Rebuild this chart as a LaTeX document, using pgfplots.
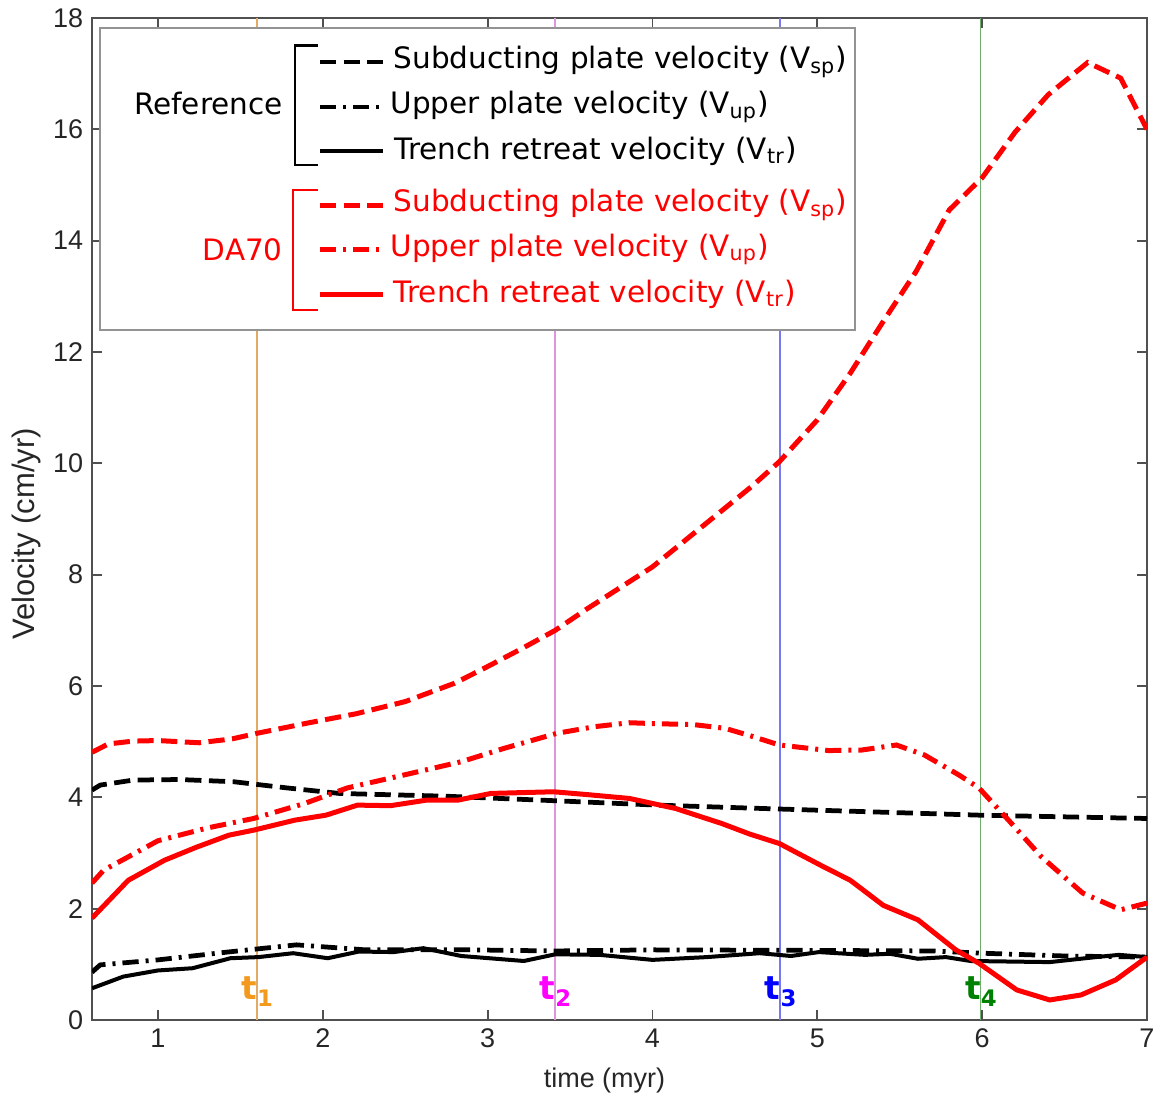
\documentclass[border=0pt]{standalone}
\usepackage{pgfplots}
\pgfplotsset{compat=1.18}
\usepackage{fontspec}
\setmainfont{Liberation Sans}
\newfontfamily\legfont{DejaVu Sans}
\usetikzlibrary{calc}

\definecolor{axgray}{RGB}{80,80,80}
\definecolor{txtgray}{RGB}{38,38,38}
\definecolor{tone}{RGB}{243,154,30}
\definecolor{tonel}{RGB}{226,170,100}
\definecolor{ttwo}{RGB}{255,0,255}
\definecolor{ttwol}{RGB}{220,150,220}
\definecolor{tthree}{RGB}{0,0,255}
\definecolor{tthreel}{RGB}{120,120,240}
\definecolor{tfour}{RGB}{0,128,0}
\definecolor{tfourl}{RGB}{110,175,110}

\tikzset{
  dsh/.style={dash pattern=on 6.5pt off 3pt},
  dd/.style={dash pattern=on 6.5pt off 2.8pt on 1.2pt off 2.8pt},
}

\pgfplotstableread{
x y
0.6 4.81
0.7 4.96
0.85 5.01
1.0 5.02
1.25 4.98
1.45 5.05
1.6 5.15
1.9 5.33
2.2 5.50
2.5 5.72
2.8 6.05
3.0 6.35
3.2 6.66
3.41 7.00
3.6 7.38
3.8 7.76
4.0 8.14
4.2 8.62
4.4 9.10
4.6 9.58
4.77 10.03
5.0 10.78
5.2 11.62
5.4 12.55
5.6 13.45
5.8 14.55
6.0 15.13
6.2 15.95
6.4 16.62
6.64 17.20
6.84 16.92
7.0 16.0
}\rsp

\pgfplotstableread{
x y
0.6 2.46
0.67 2.69
1.0 3.22
1.3 3.45
1.58 3.62
1.89 3.89
2.15 4.17
2.49 4.40
2.84 4.64
3.1 4.88
3.42 5.15
3.65 5.27
3.86 5.34
4.05 5.32
4.24 5.31
4.44 5.24
4.6 5.10
4.77 4.94
5.07 4.84
5.27 4.85
5.48 4.94
5.65 4.76
5.86 4.40
5.98 4.17
6.16 3.59
6.36 2.93
6.61 2.28
6.84 1.98
7.0 2.10
}\rup

\pgfplotstableread{
x y
0.6 1.83
0.82 2.51
1.04 2.87
1.23 3.10
1.43 3.32
1.58 3.41
1.83 3.59
2.02 3.68
2.21 3.86
2.41 3.85
2.63 3.95
2.82 3.95
3.02 4.07
3.40 4.10
3.6 4.05
3.86 3.98
4.0 3.89
4.14 3.80
4.42 3.53
4.59 3.34
4.77 3.17
5.02 2.78
5.20 2.51
5.40 2.06
5.61 1.80
5.84 1.26
5.98 1.02
6.21 0.54
6.41 0.36
6.60 0.45
6.81 0.72
7.0 1.13
}\rtr

\pgfplotstableread{
x y
0.6 4.13
0.65 4.22
0.85 4.31
1.13 4.32
1.46 4.28
1.78 4.17
2.10 4.07
2.75 4.02
3.40 3.94
4.03 3.86
4.77 3.79
5.98 3.68
7.0 3.62
}\ksp

\pgfplotstableread{
x y
0.6 0.86
0.65 0.99
1.0 1.08
1.42 1.22
1.84 1.35
2.26 1.26
2.89 1.26
3.41 1.24
4.0 1.26
5.0 1.25
5.7 1.24
6.0 1.20
6.5 1.15
7.0 1.13
}\kup

\pgfplotstableread{
x y
0.6 0.57
0.79 0.78
1.0 0.89
1.21 0.93
1.44 1.11
1.61 1.13
1.82 1.20
2.03 1.11
2.22 1.23
2.43 1.22
2.61 1.29
2.84 1.15
3.22 1.06
3.41 1.18
3.68 1.17
4.0 1.08
4.33 1.13
4.65 1.20
4.84 1.15
5.01 1.22
5.29 1.17
5.44 1.19
5.61 1.10
5.78 1.13
5.93 1.06
6.41 1.04
6.69 1.13
6.83 1.17
7.0 1.13
}\ktr

\begin{document}
\begin{tikzpicture}
\begin{axis}[
  width=422pt, height=400.8pt, scale only axis,
  xmin=0.6, xmax=7, ymin=0, ymax=18,
  xtick={1,...,7}, ytick={0,2,...,18},
  tick align=inside, major tick length=4pt,
  axis line style={axgray, line width=0.7pt},
  tick style={axgray, line width=0.7pt},
  ticklabel style={font=\fontsize{10.8}{12}\selectfont, text=txtgray},
  /pgf/number format/assume math mode=true,
  xlabel={time (myr)}, ylabel={Velocity (cm/yr)},
  xlabel style={font=\fontsize{10.8}{13}\selectfont, text=txtgray, yshift=-1pt, xshift=-6pt},
  ylabel style={font=\fontsize{12.4}{14}\selectfont, text=txtgray, yshift=-2pt, xshift=-6pt},
]
\coordinate (ll) at (rel axis cs:0,0);
\coordinate (ur) at (rel axis cs:1,1);

\addplot[tonel, line width=0.6pt] coordinates {(1.6,0) (1.6,18)};
\addplot[ttwol, line width=0.6pt] coordinates {(3.41,0) (3.41,18)};
\addplot[tthreel, line width=0.6pt] coordinates {(4.775,0) (4.775,18)};
\addplot[tfourl, line width=0.6pt] coordinates {(5.99,0) (5.99,18)};

\addplot[black, line width=1.9pt, dsh] table {\ksp};
\addplot[black, line width=1.9pt, dd] table {\kup};
\addplot[black, line width=1.6pt] table {\ktr};
\addplot[red, line width=2pt, dsh] table {\rsp};
\addplot[red, line width=2pt, dd] table {\rup};
\addplot[red, line width=2pt] table {\rtr};

% t labels
\node[anchor=base west, inner sep=0pt, xshift=-6.3pt, text=tone, font=\legfont\bfseries\fontsize{13}{15}\selectfont] at (axis cs:1.6,0.36) {t\textsubscript{1}};
\node[anchor=base west, inner sep=0pt, xshift=-6.3pt, text=ttwo, font=\legfont\bfseries\fontsize{13}{15}\selectfont] at (axis cs:3.41,0.36) {t\textsubscript{2}};
\node[anchor=base west, inner sep=0pt, xshift=-6.3pt, text=tthree, font=\legfont\bfseries\fontsize{13}{15}\selectfont] at (axis cs:4.775,0.36) {t\textsubscript{3}};
\node[anchor=base west, inner sep=0pt, xshift=-6.3pt, text=tfour, font=\legfont\bfseries\fontsize{13}{15}\selectfont] at (axis cs:5.99,0.36) {t\textsubscript{4}};

% legend box
\draw[gray!85, line width=0.7pt, fill=white] (axis cs:0.649,12.39) rectangle (axis cs:5.23,17.82);
\draw[black, line width=1pt] (axis cs:1.971,17.51) -| (axis cs:1.832,15.36) -- (axis cs:1.971,15.36);
\draw[red, line width=1pt] (axis cs:1.971,14.91) -| (axis cs:1.82,12.75) -- (axis cs:1.971,12.75);
\node[anchor=east, inner sep=0pt, font=\legfont\fontsize{11.8}{14}\selectfont] at (axis cs:1.76,16.47) {Reference};
\node[anchor=east, inner sep=0pt, text=red, font=\legfont\fontsize{11.8}{14}\selectfont] at (axis cs:1.76,13.83) {DA70};

\draw[black, line width=1.9pt, dsh] (axis cs:1.983,17.21) -- (axis cs:2.366,17.21);
\draw[black, line width=1.9pt, dd] (axis cs:1.983,16.40) -- (axis cs:2.366,16.40);
\draw[black, line width=1.9pt] (axis cs:1.983,15.61) -- (axis cs:2.366,15.61);
\draw[red, line width=2pt, dsh] (axis cs:1.983,14.64) -- (axis cs:2.366,14.64);
\draw[red, line width=2pt, dd] (axis cs:1.983,13.84) -- (axis cs:2.366,13.84);
\draw[red, line width=2pt] (axis cs:1.983,13.04) -- (axis cs:2.366,13.04);

\node[anchor=west, inner sep=0pt, font=\legfont\fontsize{11.8}{14}\selectfont] at (axis cs:2.427,17.21) {Subducting plate velocity (V\textsubscript{sp})};
\node[anchor=west, inner sep=0pt, font=\legfont\fontsize{11.8}{14}\selectfont] at (axis cs:2.408,16.40) {Upper plate velocity (V\textsubscript{up})};
\node[anchor=west, inner sep=0pt, font=\legfont\fontsize{11.8}{14}\selectfont] at (axis cs:2.433,15.61) {Trench retreat velocity (V\textsubscript{tr})};
\node[anchor=west, inner sep=0pt, text=red, font=\legfont\fontsize{11.8}{14}\selectfont] at (axis cs:2.427,14.64) {Subducting plate velocity (V\textsubscript{sp})};
\node[anchor=west, inner sep=0pt, text=red, font=\legfont\fontsize{11.8}{14}\selectfont] at (axis cs:2.408,13.84) {Upper plate velocity (V\textsubscript{up})};
\node[anchor=west, inner sep=0pt, text=red, font=\legfont\fontsize{11.8}{14}\selectfont] at (axis cs:2.427,13.04) {Trench retreat velocity (V\textsubscript{tr})};
\end{axis}
\pgfresetboundingbox
\path[use as bounding box] ($(ll)+(-36.8pt,-30pt)$) rectangle ($(ur)+(2.8pt,7.2pt)$);
\end{tikzpicture}
\end{document}
